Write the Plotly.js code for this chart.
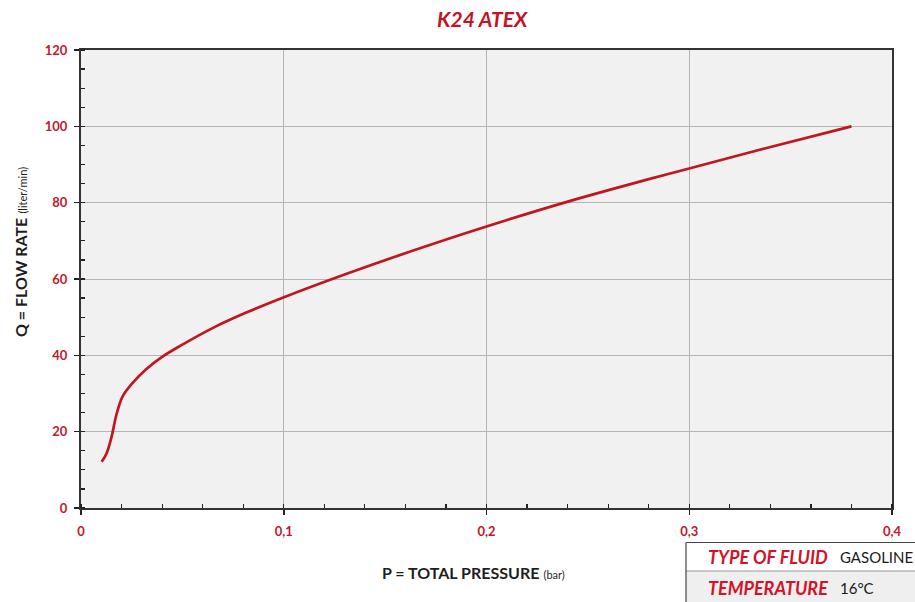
<!DOCTYPE html>
<html>
<head>
<meta charset="utf-8">
<script src="https://cdn.plot.ly/plotly-3.0.1.min.js"></script>
<style>html,body{margin:0;padding:0;background:#fff;}#chart{width:915px;height:602px;}</style>
</head>
<body>
<div id="chart"></div>
<script>
// Data
const pressure = [0.0102, 0.0126, 0.0151, 0.0175, 0.0205, 0.0257, 0.0320, 0.0400, 0.0500, 0.0651, 0.0815, 0.0995, 0.1307, 0.1635, 0.1996, 0.2422, 0.2782, 0.2995, 0.3372, 0.380];
const flow = [12.1, 14.3, 18.7, 24.5, 29.2, 32.9, 36.3, 39.6, 42.8, 47.2, 51.2, 55.1, 61.3, 67.4, 73.7, 80.6, 85.9, 88.9, 94.2, 100];
const xTickVals = [0, 0.1, 0.2, 0.3, 0.4];
const xTickText = ["0", "0,1", "0,2", "0,3", "0,4"];
const yTickVals = [0, 20, 40, 60, 80, 100, 120];
const yTickText = ["0", "20", "40", "60", "80", "100", "120"];
const chartTitle = "K24 ATEX";
const xTitle = "P = TOTAL PRESSURE";
const xUnit = "(bar)";
const yTitle = "Q = FLOW RATE";
const yUnit = "(liter/min)";
const tableLabels = ["TYPE OF FLUID", "TEMPERATURE"];
const tableValues = ["GASOLINE", "16°C"];

const RED = "#c41424";
const LBL = "#c0182c";
const FONT = "Lato, 'Open Sans', sans-serif";

// pixel -> paper helpers (plot area 81..892 x, 50..508 y)
const L = 81, R = 892, T = 50, B = 508;
const px = v => (v - L) / (R - L);
const py = v => (B - v) / (B - T);

const trace = {
  x: pressure, y: flow, type: "scatter", mode: "lines",
  line: {color: "#c0161e", width: 2.7, shape: "spline", smoothing: 1},
  hoverinfo: "skip"
};

const annotations = [
  {text: "<b><i>" + chartTitle + "</i></b>", xref: "paper", yref: "paper", x: px(482), y: py(18),
   showarrow: false, font: {family: FONT, size: 21, color: RED, weight: 900}, xanchor: "center", yanchor: "middle"},
  {text: "<b>" + xTitle + "</b> <span style='font-size:11px'>" + xUnit + "</span>", xref: "paper", yref: "paper",
   x: px(473), y: py(572), showarrow: false, font: {family: FONT, size: 16, color: "#1e1e1e"}, xanchor: "center", yanchor: "middle"},
  {text: "<b>" + yTitle + "</b> <span style='font-size:11px'>" + yUnit + "</span>", xref: "paper", yref: "paper",
   x: px(20), y: py(252), textangle: -90, showarrow: false, font: {family: FONT, size: 16, color: "#1e1e1e"}, xanchor: "center", yanchor: "middle"}
];

const rowCenters = [557, 588];
tableLabels.forEach((lab, i) => {
  annotations.push({text: "<b><i>" + lab + "</i></b>", xref: "paper", yref: "paper", x: px(706), y: py(rowCenters[i]),
    showarrow: false, xanchor: "left", yanchor: "middle", font: {family: FONT, size: 18, color: "#d3122a"}});
  annotations.push({text: tableValues[i], xref: "paper", yref: "paper", x: px(838), y: py(rowCenters[i]),
    showarrow: false, xanchor: "left", yanchor: "middle", font: {family: FONT, size: 15, color: "#1a1a1a"}});
});

const shapes = [
  {type: "rect", xref: "paper", yref: "paper", x0: px(686), x1: px(925), y0: py(571), y1: py(610),
   fillcolor: "#efefef", line: {width: 0}, layer: "below"},
  {type: "line", xref: "paper", yref: "paper", x0: px(686), x1: px(925), y0: py(542.5), y1: py(542.5), line: {color: "#444", width: 1.2}},
  {type: "line", xref: "paper", yref: "paper", x0: px(686), x1: px(925), y0: py(571), y1: py(571), line: {color: "#999", width: 1}},
  {type: "line", xref: "paper", yref: "paper", x0: px(686), x1: px(686), y0: py(542.5), y1: py(610), line: {color: "#444", width: 1.2}}
];

const layout = {
  width: 915, height: 602,
  margin: {l: L, r: 915 - R, t: T, b: 602 - B, pad: 0},
  paper_bgcolor: "#ffffff", plot_bgcolor: "#f1f1f1",
  showlegend: false,
  font: {family: FONT},
  xaxis: {
    range: [0, 0.4], tickvals: xTickVals, ticktext: xTickText,
    showgrid: true, gridcolor: "#b5b5b5", gridwidth: 1,
    showline: true, linecolor: "#333", linewidth: 2, mirror: true,
    ticks: "outside", ticklen: 5, tickcolor: "#222", tickwidth: 1.5,
    minor: {dtick: 0.02, ticks: "inside", ticklen: 4, tickcolor: "#222", tickwidth: 1.2, showgrid: false},
    tickfont: {family: FONT, size: 13, color: LBL, weight: "bold"},
    zeroline: false, fixedrange: true, ticklabelstandoff: 5
  },
  yaxis: {
    range: [0, 120], tickvals: yTickVals, ticktext: yTickText,
    showgrid: true, gridcolor: "#b5b5b5", gridwidth: 1,
    showline: true, linecolor: "#333", linewidth: 2, mirror: true,
    ticks: "outside", ticklen: 5, tickcolor: "#222", tickwidth: 1.5,
    minor: {dtick: 5, ticks: "inside", ticklen: 4, tickcolor: "#222", tickwidth: 1.2, showgrid: false},
    tickfont: {family: FONT, size: 13, color: LBL, weight: "bold"},
    zeroline: false, fixedrange: true, ticklabelstandoff: 4
  },
  annotations: annotations,
  shapes: shapes
};

Plotly.newPlot("chart", [trace], layout, {displayModeBar: false, staticPlot: true});
</script>
</body>
</html>
